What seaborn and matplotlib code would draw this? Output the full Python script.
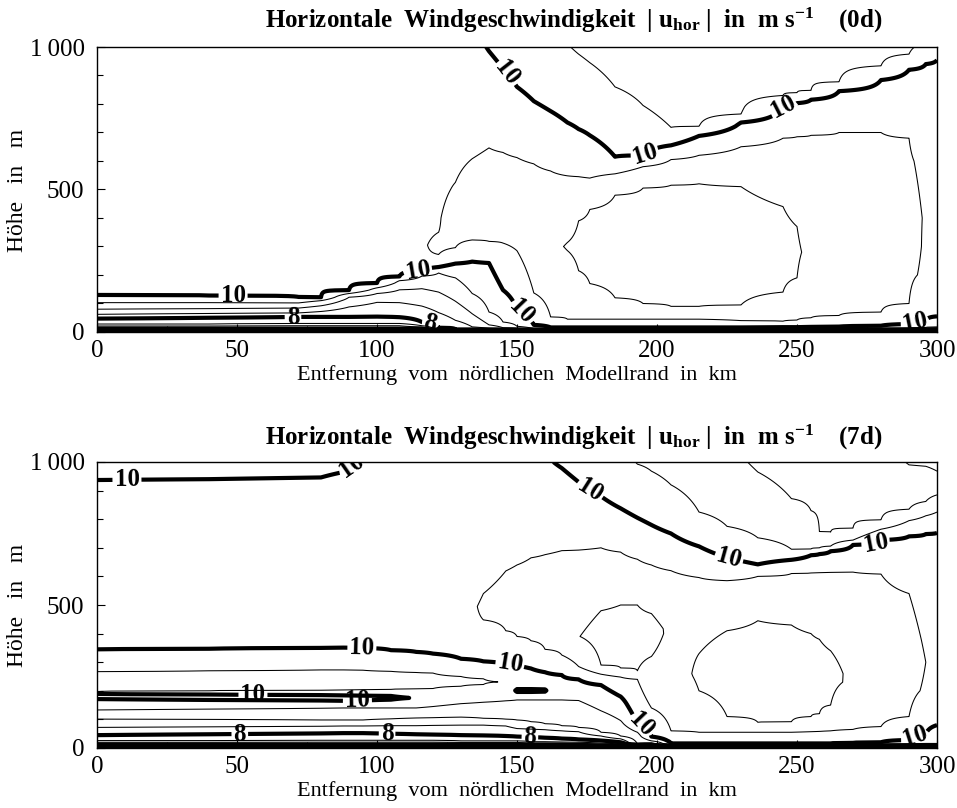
import numpy as np
import matplotlib
matplotlib.use("Agg")
import matplotlib.pyplot as plt
import seaborn as sns
from matplotlib.ticker import FixedLocator, MultipleLocator

sns.set_theme(style="white")
plt.rcParams['font.family'] = ['Liberation Serif', 'DejaVu Serif']
plt.rcParams['mathtext.fontset'] = 'custom'
plt.rcParams['mathtext.rm'] = 'Liberation Serif'
plt.rcParams['mathtext.bf'] = 'Liberation Serif:bold'
plt.rcParams['mathtext.it'] = 'Liberation Serif:italic'

# ---------------- data: wind speed profiles (height m, speed m/s) per column ----------------
X_0D = [0, 40, 72, 80, 90, 100, 108, 116, 122, 128, 134, 140, 145, 150, 156, 162, 168, 172, 176,
        185, 195, 205, 215, 230, 245, 250, 255, 265, 280, 290, 296, 300]
Z_0D = [
    [0, 4, 8, 14, 28, 47, 62, 80, 103, 130, 300, 700, 1000],
    [0, 4, 8, 14, 28, 50, 65, 82, 103, 128, 300, 1000],
    [0, 4, 8, 14, 30, 53, 67, 84, 102, 123, 300, 1000],
    [0, 4, 8, 14, 30, 53, 72, 92, 110, 122, 300, 1000],
    [0, 4, 8, 14, 30, 53, 88, 122, 135, 147, 300, 1000],
    [0, 4, 8, 14, 30, 54, 104, 135, 155, 172, 300, 1000],
    [0, 4, 8, 14, 30, 52, 103, 148, 180, 195, 300, 1000],
    [0, 4, 8, 13, 22, 35, 91, 152, 196, 215, 263, 400, 1000],
    [0, 3, 6, 9, 12, 15, 68, 140, 207, 228, 272, 305, 350, 500, 1000],
    [0, 3, 6, 9, 41, 108, 190, 240, 296, 400, 525, 800, 1000],
    [0, 3, 6, 9, 18, 64, 135, 247, 323, 450, 608, 800, 1000],
    [0, 3, 6, 9, 13, 25, 70, 242, 318, 450, 646, 800, 1000],
    [0, 3, 6, 9, 12, 15, 35, 147, 312, 450, 630, 800, 925, 1000],
    [0, 3, 6, 9, 13, 20, 80, 285, 450, 612, 750, 860, 1000],
    [0, 3, 6, 9, 12, 25, 137, 350, 590, 700, 810, 1000],
    [0, 3, 6, 9, 12, 16, 53, 300, 565, 680, 775, 1000],
    [0, 3, 6, 9, 12, 16, 45, 300, 548, 650, 735, 1000],
    [0, 3, 6, 9, 12, 16, 45, 215, 300, 390, 545, 635, 712, 975, 1000],
    [0, 3, 6, 9, 12, 16, 45, 170, 300, 430, 540, 620, 690, 945, 1000],
    [0, 3, 6, 9, 12, 16, 45, 120, 300, 480, 555, 590, 615, 860, 1000],
    [0, 3, 6, 9, 12, 16, 45, 100, 300, 505, 580, 600, 620, 795, 1000],
    [0, 3, 6, 9, 12, 16, 45, 90, 300, 515, 605, 630, 655, 718, 850, 1000],
    [0, 3, 6, 9, 12, 16, 45, 90, 300, 520, 620, 655, 688, 722, 850, 1000],
    [0, 3, 6, 9, 12, 16, 40, 95, 300, 510, 650, 700, 735, 765, 900, 1000],
    [0, 3, 6, 9, 12, 17, 38, 140, 290, 440, 680, 740, 790, 830, 1000],
    [0, 3, 6, 9, 12, 17, 42, 190, 280, 370, 685, 750, 803, 840, 1000],
    [0, 3, 6, 9, 12, 18, 50, 280, 690, 760, 815, 848, 1000],
    [0, 3, 6, 9, 12, 19, 58, 300, 700, 790, 845, 878, 1000],
    [0, 3, 6, 9, 13, 22, 70, 300, 700, 820, 884, 934, 1000],
    [0, 3, 6, 9, 14, 28, 100, 300, 680, 850, 920, 975, 1000],
    [0, 3, 6, 9, 16, 40, 200, 400, 600, 850, 940, 1000],
    [0, 3, 6, 9, 18, 55, 300, 800, 954, 1000],
]
U_0D = [
    [0, 3, 5, 6.5, 7.5, 8, 8.5, 9, 9.5, 10, 10.3, 10.35, 10.3],
    [0, 3, 5, 6.5, 7.5, 8, 8.5, 9, 9.5, 10, 10.3, 10.3],
    [0, 3, 5, 6.5, 7.5, 8, 8.5, 9, 9.5, 10, 10.3, 10.3],
    [0, 3, 5, 6.5, 7.5, 8, 8.5, 9, 9.5, 10, 10.3, 10.3],
    [0, 3, 5, 6.5, 7.5, 8, 8.5, 9, 9.5, 10, 10.3, 10.3],
    [0, 3, 5, 6.5, 7.5, 8, 8.5, 9, 9.5, 10, 10.35, 10.3],
    [0, 3, 5, 6.5, 7.5, 8, 8.5, 9, 9.5, 10, 10.4, 10.3],
    [0, 3, 5, 6.5, 7.5, 8, 8.5, 9, 9.5, 10, 10.47, 10.4, 10.3],
    [0, 3, 5, 6.5, 7.5, 8, 8.5, 9, 9.5, 10, 10.5, 10.6, 10.5, 10.4, 10.3],
    [0, 4, 6, 8, 8.5, 9, 9.5, 10, 10.5, 10.7, 10.5, 10.3, 10.2],
    [0, 4, 6, 8, 8.5, 9, 9.5, 10, 10.5, 10.7, 10.5, 10.3, 10.1],
    [0, 4, 6, 8, 8.5, 9, 9.5, 10, 10.5, 10.7, 10.5, 10.25, 9.98],
    [0, 4, 6, 8, 8.5, 9, 9.5, 10, 10.5, 10.75, 10.5, 10.2, 10, 9.9],
    [0, 4, 6, 8, 9, 9.5, 10, 10.5, 10.8, 10.5, 10.2, 10, 9.8],
    [0, 4, 6, 8, 9.5, 10, 10.5, 10.85, 10.5, 10.2, 10, 9.7],
    [0, 4, 6, 8, 9.5, 10, 10.5, 10.9, 10.5, 10.2, 10, 9.6],
    [0, 4, 6, 8, 9.5, 10, 10.5, 11.03, 10.5, 10.2, 10, 9.52],
    [0, 4, 6, 8, 9.5, 10, 10.5, 11, 11.08, 11, 10.5, 10.2, 10, 9.5, 9.45],
    [0, 4, 6, 8, 9.5, 10, 10.5, 11, 11.15, 11, 10.5, 10.2, 10, 9.5, 9.4],
    [0, 4, 6, 8, 9.5, 10, 10.5, 11, 11.25, 11, 10.5, 10.2, 10, 9.5, 9.3],
    [0, 4, 6, 8, 9.5, 10, 10.5, 11, 11.3, 11, 10.5, 10.2, 10, 9.5, 9.25],
    [0, 4, 6, 8, 9.5, 10, 10.5, 11, 11.35, 11, 10.5, 10.2, 10, 9.5, 9.2, 9.25],
    [0, 4, 6, 8, 9.5, 10, 10.5, 11, 11.35, 11, 10.5, 10.2, 10, 9.5, 9.2, 9.3],
    [0, 4, 6, 8, 9.5, 10, 10.5, 11, 11.3, 11, 10.5, 10.2, 10, 9.5, 9.25, 9.3],
    [0, 4, 6, 8, 9.5, 10, 10.5, 11, 11.15, 11, 10.5, 10.2, 10, 9.5, 9.3],
    [0, 4, 6, 8, 9.5, 10, 10.5, 11, 11.05, 11, 10.5, 10.2, 10, 9.5, 9.32],
    [0, 4, 6, 8, 9.5, 10, 10.5, 10.9, 10.5, 10.2, 10, 9.5, 9.35],
    [0, 4, 6, 8, 9.5, 10, 10.5, 10.8, 10.5, 10.2, 10, 9.5, 9.35],
    [0, 4, 6, 8, 9.5, 10, 10.5, 10.7, 10.5, 10.2, 10, 9.5, 9.4],
    [0, 4, 6, 8, 9.5, 10, 10.5, 10.6, 10.5, 10.2, 10, 9.5, 9.45],
    [0, 4, 6, 8, 9.5, 10, 10.45, 10.48, 10.45, 10.2, 10, 9.6],
    [0, 4, 6, 8, 9.5, 10, 10.4, 10.3, 10, 9.8],
]

X_7D = [0, 40, 80, 88, 95, 105, 114, 120, 130, 138, 146, 150, 155, 160, 166, 172, 180, 187,
        193, 198, 205, 215, 225, 236, 248, 255, 258, 262, 270, 280, 290, 296, 300]
Z_7D = [
    [0, 4, 8, 14, 26, 45, 72, 101, 133, 171, 180, 189, 197, 232, 267, 345, 500, 800, 937, 1000],
    [0, 4, 8, 14, 26, 48, 74, 100, 136, 168, 178, 187, 200, 235, 270, 347, 500, 800, 940, 1000],
    [0, 4, 8, 14, 27, 51, 76, 98, 139, 166, 176, 185, 202, 238, 273, 350, 500, 800, 946, 1000],
    [0, 4, 8, 14, 27, 52, 77, 98, 140, 165, 175, 184, 203, 238, 273, 351, 500, 800, 965, 1000],
    [0, 4, 8, 14, 27, 52, 77, 98, 140, 166, 175, 183, 204, 238, 272, 350, 500, 800, 1000],
    [0, 4, 8, 14, 27, 50, 78, 102, 140, 169, 176, 182, 205, 238, 268, 342, 500, 800, 1000],
    [0, 4, 8, 14, 27, 48, 78, 105, 140, 175, 207, 235, 264, 336, 500, 800, 1000],
    [0, 4, 8, 14, 27, 47, 79, 106, 145, 178, 208, 235, 262, 330, 450, 800, 1000],
    [0, 4, 8, 14, 25, 45, 80, 108, 155, 185, 216, 233, 250, 312, 450, 600, 1000],
    [0, 4, 8, 14, 25, 44, 80, 104, 160, 190, 222, 232, 242, 303, 448, 495, 540, 700, 1000],
    [0, 4, 8, 14, 25, 42, 77, 101, 165, 195, 231, 295, 410, 520, 619, 800, 1000],
    [0, 4, 8, 14, 25, 40, 68, 98, 168, 196, 201, 206, 245, 290, 390, 520, 640, 800, 1000],
    [0, 4, 8, 13, 22, 38, 66, 92, 168, 196, 201, 206, 240, 278, 375, 520, 665, 800, 1000],
    [0, 4, 8, 13, 22, 36, 64, 85, 168, 196, 201, 206, 235, 265, 345, 520, 676, 800, 1000],
    [0, 4, 8, 13, 21, 33, 60, 78, 168, 215, 255, 325, 520, 690, 800, 1000],
    [0, 4, 8, 12, 20, 30, 57, 72, 166, 210, 240, 285, 390, 520, 692, 800, 930, 1000],
    [0, 3, 6, 10, 17, 26, 42, 55, 130, 190, 220, 258, 290, 390, 480, 600, 700, 770, 880, 1000],
    [0, 3, 6, 9, 14, 20, 32, 42, 96, 150, 180, 248, 280, 390, 500, 560, 685, 760, 838, 1000],
    [0, 3, 6, 9, 12, 15, 55, 85, 150, 240, 270, 390, 500, 560, 660, 730, 805, 1000],
    [0, 3, 6, 9, 12, 25, 40, 140, 250, 320, 400, 470, 540, 640, 700, 780, 968, 1000],
    [0, 3, 6, 9, 12, 16, 60, 250, 417, 500, 620, 680, 750, 920, 1000],
    [0, 3, 6, 9, 12, 16, 55, 200, 260, 330, 440, 596, 650, 705, 825, 950, 1000],
    [0, 3, 6, 9, 12, 16, 55, 110, 260, 410, 585, 625, 665, 775, 920, 1000],
    [0, 3, 6, 9, 12, 16, 55, 90, 260, 445, 600, 620, 642, 735, 880, 965, 1000],
    [0, 3, 6, 9, 12, 16, 55, 92, 260, 430, 610, 635, 658, 695, 780, 872, 1000],
    [0, 3, 6, 9, 12, 16, 57, 110, 260, 400, 612, 645, 674, 696, 760, 830, 1000],
    [0, 3, 6, 9, 12, 16, 58, 120, 260, 380, 613, 652, 678, 700, 735, 757, 1000],
    [0, 3, 6, 9, 12, 16, 60, 150, 260, 340, 614, 660, 688, 706, 755, 1000],
    [0, 3, 6, 9, 13, 18, 65, 230, 340, 615, 680, 710, 727, 769, 1000],
    [0, 3, 6, 9, 14, 20, 75, 300, 608, 690, 727, 765, 798, 1000],
    [0, 3, 6, 9, 15, 28, 110, 300, 540, 680, 740, 795, 835, 990, 1000],
    [0, 3, 6, 9, 16, 50, 200, 300, 380, 600, 748, 812, 862, 985, 1000],
    [0, 3, 6, 9, 16, 80, 300, 600, 752, 825, 885, 968, 1000],
]
U_7D = [
    [0, 3, 5, 6.5, 7.5, 8, 8.5, 9, 9.5, 10, 10.15, 10, 9.5, 9.4, 9.5, 10, 10.3, 10.25, 10, 9.9],
    [0, 3, 5, 6.5, 7.5, 8, 8.5, 9, 9.5, 10, 10.15, 10, 9.5, 9.4, 9.5, 10, 10.3, 10.25, 10, 9.9],
    [0, 3, 5, 6.5, 7.5, 8, 8.5, 9, 9.5, 10, 10.15, 10, 9.5, 9.4, 9.5, 10, 10.3, 10.25, 10, 9.93],
    [0, 3, 5, 6.5, 7.5, 8, 8.5, 9, 9.5, 10, 10.12, 10, 9.5, 9.4, 9.5, 10, 10.3, 10.25, 10, 9.96],
    [0, 3, 5, 6.5, 7.5, 8, 8.5, 9, 9.5, 10, 10.1, 10, 9.5, 9.4, 9.5, 10, 10.3, 10.25, 10.02],
    [0, 3, 5, 6.5, 7.5, 8, 8.5, 9, 9.5, 10, 10.06, 10, 9.5, 9.4, 9.5, 10, 10.3, 10.25, 10.1],
    [0, 3, 5, 6.5, 7.5, 8, 8.5, 9, 9.5, 9.98, 9.5, 9.4, 9.5, 10, 10.35, 10.3, 10.1],
    [0, 3, 5, 6.5, 7.5, 8, 8.5, 9, 9.5, 9.85, 9.5, 9.42, 9.5, 10, 10.4, 10.3, 10.15],
    [0, 3, 5, 6.5, 7.5, 8, 8.5, 9, 9.5, 9.8, 9.5, 9.45, 9.5, 10, 10.45, 10.35, 10.2],
    [0, 3, 5, 6.5, 7.5, 8, 8.5, 9, 9.5, 9.8, 9.5, 9.48, 9.5, 10, 10.5, 10.53, 10.5, 10.3, 10.15],
    [0, 3, 5, 6.5, 7.5, 8, 8.5, 9, 9.5, 9.85, 9.51, 10, 10.5, 10.6, 10.5, 10.25, 10.1],
    [0, 3, 5, 6.5, 7.5, 8, 8.5, 9, 9.5, 10, 10.04, 10, 9.8, 10, 10.5, 10.65, 10.5, 10.2, 10.05],
    [0, 3, 5, 6.5, 7.5, 8, 8.5, 9, 9.5, 10, 10.05, 10, 9.85, 10, 10.5, 10.7, 10.5, 10.2, 10.05],
    [0, 3, 5, 6.5, 7.5, 8, 8.5, 9, 9.5, 9.995, 10.02, 9.995, 9.9, 10, 10.5, 10.75, 10.5, 10.25, 10.03],
    [0, 3, 5, 6.5, 7.5, 8, 8.5, 9, 9.5, 9.9, 10, 10.5, 10.8, 10.5, 10.25, 9.97],
    [0, 3, 5, 6.5, 7.5, 8, 8.5, 9, 9.5, 9.85, 10, 10.5, 10.99, 10.8, 10.5, 10.2, 10, 9.9],
    [0, 3, 5, 6.5, 7.5, 8, 8.5, 9, 9.5, 9.8, 10, 10.5, 11, 11.15, 11, 10.7, 10.5, 10.2, 10, 9.8],
    [0, 3, 5, 6.5, 7.5, 8, 8.5, 9, 9.5, 9.8, 10, 10.5, 11, 11.2, 11, 10.8, 10.5, 10.2, 10, 9.65],
    [0, 3, 5, 7, 8, 9, 9.5, 10, 10.3, 10.5, 11, 11.15, 11, 10.8, 10.5, 10.2, 10, 9.48],
    [0, 3, 5, 7.5, 8.5, 9.5, 10, 10.5, 10.8, 11, 11.1, 11, 10.8, 10.5, 10.2, 10, 9.5, 9.45],
    [0, 4, 6, 8, 9.5, 10, 10.5, 10.85, 10.95, 10.85, 10.5, 10.2, 10, 9.5, 9.35],
    [0, 4, 6, 8, 9.5, 10, 10.5, 11, 11.05, 11, 10.9, 10.5, 10.2, 10, 9.5, 9.3, 9.25],
    [0, 4, 6, 8, 9.5, 10, 10.5, 11, 11.2, 11, 10.5, 10.2, 10, 9.5, 9.2, 9.1],
    [0, 4, 6, 8, 9.5, 10, 10.5, 11, 11.25, 11, 10.5, 10.2, 10, 9.5, 9.2, 9, 8.95],
    [0, 4, 6, 8, 9.5, 10, 10.5, 11, 11.25, 11, 10.5, 10.2, 10, 9.5, 9.3, 9, 8.8],
    [0, 4, 6, 8, 9.5, 10, 10.5, 11, 11.18, 11, 10.5, 10.2, 10, 9.5, 9.3, 9, 8.85],
    [0, 4, 6, 8, 9.5, 10, 10.5, 11, 11.15, 11, 10.5, 10.2, 10, 9.5, 9.25, 9, 8.85],
    [0, 4, 6, 8, 9.5, 10, 10.5, 11, 11.08, 11, 10.5, 10.2, 10, 9.5, 9, 8.85],
    [0, 4, 6, 8, 9.5, 10, 10.5, 10.95, 10.9, 10.5, 10.2, 10, 9.5, 9, 8.8],
    [0, 4, 6, 8, 9.5, 10, 10.5, 10.8, 10.5, 10.2, 10, 9.5, 9, 8.7],
    [0, 4, 6, 8, 9.5, 10, 10.5, 10.7, 10.5, 10.2, 10, 9.5, 9, 8.5, 8.47],
    [0, 4, 6, 8, 9.5, 10, 10.45, 10.5, 10.45, 10.3, 10, 9.5, 9, 8.5, 8.45],
    [0, 4, 6, 8, 9.5, 10, 10.4, 10.3, 10, 9.5, 9, 8.5, 8.4],
]

THIN_LEVELS = [0.5 * k for k in range(1, 23) if k % 4 != 0]   # all half-steps except 2,4,...
THICK_LEVELS = [2, 4, 6]
LABEL_LEVELS = [8, 10]
X_TICKS = [0, 50, 100, 150, 200, 250, 300]
Y_TICKS = [0, 500, 1000]
Y_TICKLABELS = ["0", "500", "1\u2009000"]
TITLES = ["(0d)", "(7d)"]
XLABEL = "Entfernung  vom  nördlichen  Modellrand  in  km"
YLABEL = "Höhe   in   m"

LABEL_POS_0D = [(48.6, 130), (114.6, 213), (151, 60), (70, 50), (119, 30),
                (146, 905), (196, 620), (245, 790), (292, 40)]
LABEL_POS_7D = [(10.7, 937), (92, 975), (94.6, 350), (147.5, 297), (55.7, 189),
                (93, 167), (51, 46), (103.6, 50), (154.6, 38), (194, 73),
                (176, 900), (225.6, 660), (278, 722), (292, 40)]

# ---------------- figure ----------------
W, H = 957, 808
fig = plt.figure(figsize=(W / 100, H / 100), dpi=100)
fig.patch.set_facecolor("white")

zgrid = np.linspace(0, 1000, 1001)


def panel(ax_box, X, Z, U, tag, label_pos, title_y, xlabel_y):
    ax = fig.add_axes(ax_box)
    ax.set_facecolor("white")
    xs = np.array(X, float)
    field = np.array([np.interp(zgrid, z, u) for z, u in zip(Z, U)]).T
    ax.contour(xs, zgrid, field, levels=THIN_LEVELS, colors="black", linewidths=0.75)
    ax.contour(xs, zgrid, field, levels=THICK_LEVELS, colors="black", linewidths=3.0)
    cs = ax.contour(xs, zgrid, field, levels=LABEL_LEVELS, colors="black", linewidths=3.0)
    ax.set_xlim(0, 300)
    ax.set_ylim(0, 1000)
    plt.rcParams['font.weight'] = 'bold'
    ax.clabel(cs, inline=True, inline_spacing=2, fmt="%d", fontsize=18, manual=label_pos)
    plt.rcParams['font.weight'] = 'normal'
    for sp in ax.spines.values():
        sp.set_visible(True)
        sp.set_color("black")
        sp.set_linewidth(1.0)
    ax.xaxis.set_major_locator(FixedLocator(X_TICKS))
    ax.xaxis.set_minor_locator(MultipleLocator(25))
    ax.yaxis.set_major_locator(FixedLocator(Y_TICKS))
    ax.yaxis.set_minor_locator(MultipleLocator(100))
    ax.set_yticklabels(Y_TICKLABELS)
    ax.tick_params(which="both", direction="in", top=False, right=False,
                   bottom=True, left=True, color="black", width=0.8)
    ax.tick_params(which="major", length=6, labelsize=18, pad=6, labelcolor="black")
    ax.tick_params(axis="y", which="major", pad=9)
    ax.tick_params(which="minor", length=4)
    ax.grid(False)
    title = (r"Horizontale  Windgeschwindigkeit  | $\mathbf{u}_{\mathbf{hor}}$ |  in  m s$^{\mathbf{-1}}$"
             + "    " + tag)
    fig.text(574 / W, 1 - title_y / H, title, ha="center", va="center",
             fontsize=18, fontweight="bold", color="black")
    fig.text(517 / W, 1 - xlabel_y / H, XLABEL, ha="center", va="center",
             fontsize=16, color="black")
    return ax


ax1 = panel([97 / W, 1 - 332 / H, 840 / W, 285 / H], X_0D, Z_0D, U_0D, TITLES[0],
            LABEL_POS_0D, 20, 375)
ax2 = panel([97 / W, 1 - 748 / H, 840 / W, 286 / H], X_7D, Z_7D, U_7D, TITLES[1],
            LABEL_POS_7D, 437, 791)
fig.text(18 / W, 1 - 190 / H, YLABEL, rotation=90, ha="center", va="center",
         fontsize=17, color="black")
fig.text(18 / W, 1 - 605 / H, YLABEL, rotation=90, ha="center", va="center",
         fontsize=17, color="black")

fig.savefig("out.png", dpi=100, facecolor="white")
